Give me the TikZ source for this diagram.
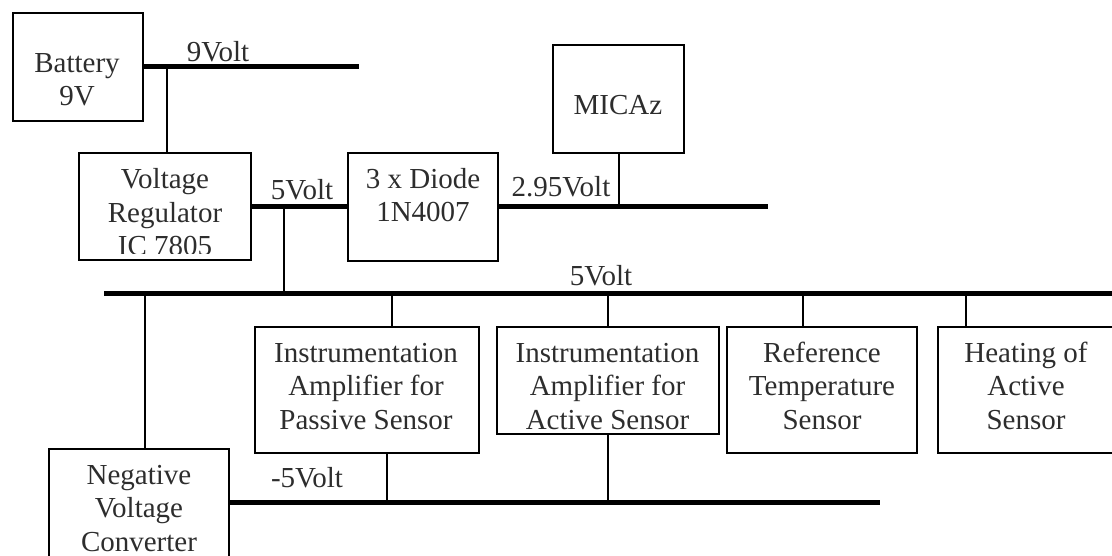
\documentclass[tikz,border=0pt]{standalone}
\usepackage{fontspec}
\setmainfont{Liberation Serif}
\definecolor{txt}{RGB}{45,45,45}
\tikzset{
  box/.style={draw=black, line width=1.3pt, inner sep=0pt, fill=none},
  lbl/.style={inner sep=0pt, anchor=base, align=center, text=txt,
     font=\fontsize{29}{33.5}\selectfont},
  bus/.style={line width=5pt},
  wire/.style={line width=1.2pt},
}
\begin{document}
\begin{tikzpicture}[x=1pt,y=-1pt]
\useasboundingbox (0,0) rectangle (1112,556);
\clip (0,0) rectangle (1112,556);
% boxes
\node[box, minimum width=130pt, minimum height=108pt] (bat) at (78,67) {};
\node[box, minimum width=172pt, minimum height=107pt] (reg) at (165,206.5) {};
\node[box, minimum width=150pt, minimum height=108pt] (dio) at (423,207) {};
\node[box, minimum width=131pt, minimum height=108pt] (mic) at (618.5,99) {};
\node[box, minimum width=180pt, minimum height=108pt] (neg) at (139,503) {};
\node[box, minimum width=224pt, minimum height=126pt] (pas) at (367,390) {};
\node[box, minimum width=222pt, minimum height=107pt] (act) at (608,380.5) {};
\node[box, minimum width=190pt, minimum height=126pt] (ref) at (822,390) {};
\node[box, minimum width=176pt, minimum height=126pt] (heat) at (1026,390) {};
% texts (anchor base = baseline of the last line)
\node[lbl] (batT) at (77,106) {Battery\\9V};
\begin{scope}
\clip (79,153) rectangle (251,254);
\node[lbl] (regT) at (165,256) {Voltage\\Regulator\\IC 7805};
\end{scope}
\node[lbl] (dioT) at (423,222) {3 x Diode\\1N4007};
\node[lbl] (micT) at (618,115) {MICAz};
\node[lbl] (negT) at (139,551) {Negative\\Voltage\\Converter};
\node[lbl] (pasT) at (366,429) {Instrumentation\\Amplifier for\\Passive Sensor};
\begin{scope}
\clip (497,327) rectangle (719,429);
\node[lbl] (actT) at (607.5,429) {Instrumentation\\Amplifier for\\Active Sensor};
\end{scope}
\node[lbl] (refT) at (822,429) {Reference\\Temperature\\Sensor};
\node[lbl] (heatT) at (1026,429) {Heating of\\Active\\Sensor};
% bus labels
\node[lbl] (v9) at (218,62) {9Volt};
\node[lbl] (v5a) at (302,200) {5Volt};
\node[lbl] (v295) at (561,197) {2.95Volt};
\node[lbl] (v5b) at (601,286) {5Volt};
\node[lbl] (vm5) at (307,487) {-5Volt};
% coordinates
\coordinate (b9end) at (359,67);
\coordinate (j9) at (167,67);
\coordinate (j5) at (284,207);
\coordinate (m5l) at (104,294);
\coordinate (m5r) at (1116,294);
\coordinate (b295end) at (768,207);
\coordinate (mj) at (619,207);
\coordinate (n5l) at (229,502);
\coordinate (n5r) at (880,502);
% buses
\draw[bus] (bat.east |- j9) -- (b9end);
\draw[bus] (reg.east |- j5) -- (dio.west |- j5);
\draw[bus] (dio.east |- j5) -- (b295end);
\draw[bus] (m5l) -- (m5r);
\draw[bus] (n5l) -- (n5r);
% wires
\draw[wire] (j9) -- (j9 |- reg.north);
\draw[wire] (j5) -- (j5 |- m5l);
\draw[wire] (mic.south -| mj) -- (mj);
\draw[wire] (145,294) -- (145,0 |- neg.north);
\draw[wire] (392,294) -- (392,0 |- pas.north);
\draw[wire] (act.north |- m5l) -- (act.north);
\draw[wire] (803,294) -- (803,0 |- ref.north);
\draw[wire] (966,294) -- (966,0 |- heat.north);
\draw[wire] (387,0 |- pas.south) -- (387,502);
\draw[wire] (act.south) -- (act.south |- n5l);
\end{tikzpicture}
\end{document}
